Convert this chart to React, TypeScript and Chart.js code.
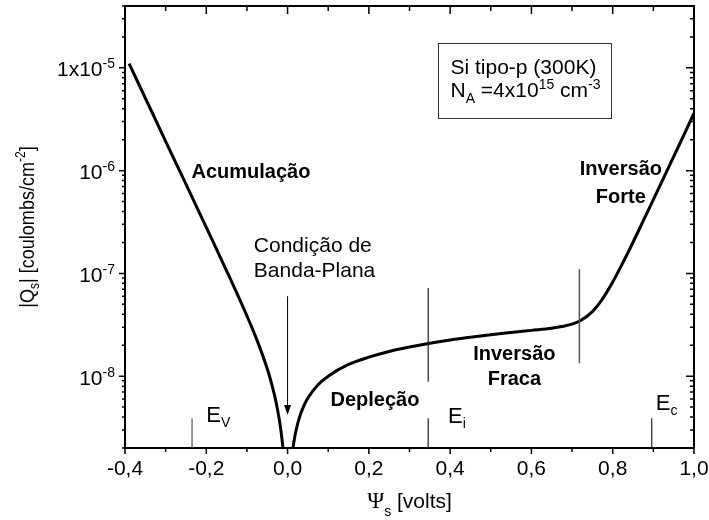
import { useEffect, useRef } from 'react';
import { Chart, registerables } from 'chart.js';

Chart.register(...registerables);

// Surface charge |Qs| against surface potential, accumulation side (psi < 0)
const psiAccumulation = [-0.39, -0.375, -0.35, -0.325, -0.3, -0.25, -0.2, -0.15, -0.1, -0.075, -0.05, -0.04, -0.03, -0.02, -0.015, -0.01, -0.005];
const qsAccumulation = [1.1e-5, 8.24e-6, 5.08e-6, 3.14e-6, 1.93e-6, 7.38e-7, 2.8e-7, 1.06e-7, 3.86e-8, 2.23e-8, 1.18e-8, 8.65e-9, 5.99e-9, 3.7e-9, 2.68e-9, 1.73e-9, 8.3e-10];

// depletion / inversion side (psi > 0)
const psiInversion = [0.005, 0.01, 0.015, 0.02, 0.03, 0.04, 0.05, 0.075, 0.1, 0.15, 0.2, 0.25, 0.3, 0.35, 0.4, 0.45, 0.5, 0.55, 0.6, 0.65, 0.675, 0.7, 0.72, 0.75, 0.775, 0.8, 0.825, 0.85, 0.875, 0.9, 0.925, 0.95, 0.975, 1.0];
const qsInversion = [7.8e-10, 1.52e-9, 2.21e-9, 2.86e-9, 4.06e-9, 5.15e-9, 6.13e-9, 8.26e-9, 1.0e-8, 1.3e-8, 1.53e-8, 1.74e-8, 1.92e-8, 2.09e-8, 2.25e-8, 2.39e-8, 2.53e-8, 2.66e-8, 2.79e-8, 2.93e-8, 3.04e-8, 3.21e-8, 3.46e-8, 4.25e-8, 5.65e-8, 8.23e-8, 1.27e-7, 2.01e-7, 3.24e-7, 5.23e-7, 8.46e-7, 1.37e-6, 2.22e-6, 3.62e-6];

const xTickValues = [-0.4, -0.2, 0, 0.2, 0.4, 0.6, 0.8, 1.0];
const xTickLabels = ['-0,4', '-0,2', '0,0', '0,2', '0,4', '0,6', '0,8', '1,0'];
const yTickExponents = [-5, -6, -7, -8];
const yTickBases = ['1x10', '10', '10', '10'];

const X_MIN = -0.4;
const X_MAX = 1.0;
const Y_MIN = 2e-9;
const Y_MAX = 4e-5;

// band-edge markers (surface potential, volts)
const psiEv = -0.235;
const psiEi = 0.346;
const psiStrong = 0.718;
const psiEc = 0.896;

const SANS = "'Liberation Sans', Arial, Helvetica, sans-serif";
const SERIF = "'Liberation Serif', 'Times New Roman', serif";

type Run = { t: string; size: number; dy?: number; bold?: boolean; family?: string };

function fontOf(r: Run) {
  return `${r.bold ? 'bold ' : ''}${r.size}px ${r.family || SANS}`;
}

function runsWidth(ctx: CanvasRenderingContext2D, runs: Run[]) {
  let w = 0;
  for (const r of runs) {
    ctx.font = fontOf(r);
    w += ctx.measureText(r.t).width;
  }
  return w;
}

// draws a row of text pieces (with sub/superscripts); sx squeezes the row horizontally
function drawRuns(ctx: CanvasRenderingContext2D, x: number, y: number, runs: Run[], align: 'left' | 'center' | 'right' = 'left', sx = 1) {
  const w = runsWidth(ctx, runs);
  let cx = align === 'left' ? 0 : align === 'center' ? -w / 2 : -w;
  ctx.save();
  ctx.translate(x, y);
  ctx.scale(sx, 1);
  ctx.textAlign = 'left';
  ctx.textBaseline = 'alphabetic';
  for (const r of runs) {
    ctx.font = fontOf(r);
    ctx.fillText(r.t, cx, r.dy || 0);
    cx += ctx.measureText(r.t).width;
  }
  ctx.restore();
}

function vline(ctx: CanvasRenderingContext2D, x: number, y1: number, y2: number) {
  ctx.beginPath();
  ctx.moveTo(x, y1);
  ctx.lineTo(x, y2);
  ctx.stroke();
}

const overlay = {
  id: 'overlay',
  afterDraw(chart: any) {
    const { ctx, chartArea: a, scales } = chart;
    const X = (v: number) => scales.x.getPixelForValue(v);
    const Y = (v: number) => scales.y.getPixelForValue(v);
    ctx.save();
    ctx.fillStyle = '#000';
    ctx.strokeStyle = '#000';

    // frame
    ctx.lineWidth = 2;
    ctx.strokeRect(a.left, a.top, a.right - a.left, a.bottom - a.top);

    // x ticks every 0.1 V: outward on the bottom, inward on the top
    ctx.lineWidth = 1.5;
    for (let i = -4; i <= 10; i++) {
      const px = X(i / 10);
      const major = i % 2 === 0;
      vline(ctx, px, a.bottom, a.bottom + (major ? 6 : 4));
      vline(ctx, px, a.top, a.top + (major ? 8 : 5));
    }

    // log y ticks: outward on the left, inward on the right
    for (let e = -9; e <= -5; e++) {
      for (let m = 1; m <= 9; m++) {
        const v = m * Math.pow(10, e);
        if (v < Y_MIN * 0.999 || v > Y_MAX * 1.001) continue;
        const py = Y(v);
        const major = m === 1;
        ctx.beginPath();
        ctx.moveTo(a.left - (major ? 6 : 3), py);
        ctx.lineTo(a.left, py);
        ctx.moveTo(a.right - (major ? 8 : 4), py);
        ctx.lineTo(a.right, py);
        ctx.stroke();
      }
    }

    // tick labels
    xTickValues.forEach((v, i) => {
      drawRuns(ctx, X(v), a.bottom + 27, [{ t: xTickLabels[i], size: 21 }], 'center');
    });
    yTickExponents.forEach((e, i) => {
      const py = Y(Math.pow(10, e));
      drawRuns(ctx, a.left - 10, py + 8.5, [
        { t: yTickBases[i], size: 21 },
        { t: String(e), size: 14, dy: -8 },
      ], 'right');
    });

    // axis titles
    drawRuns(ctx, (a.left + a.right) / 2, a.bottom + 60, [
      { t: 'Ψ', size: 23, family: SERIF },
      { t: 's', size: 14, dy: 8 },
      { t: ' [volts]', size: 21 },
    ], 'center');

    ctx.save();
    ctx.translate(34, (a.top + a.bottom) / 2);
    ctx.rotate(-Math.PI / 2);
    drawRuns(ctx, 0, 0, [
      { t: '|Q', size: 21 },
      { t: 's', size: 14, dy: 5 },
      { t: '| [coulombs/cm', size: 21 },
      { t: '-2', size: 14, dy: -9 },
      { t: ']', size: 21 },
    ], 'center', 0.86);
    ctx.restore();

    // band-edge markers
    ctx.lineWidth = 1.2;
    ctx.strokeStyle = '#222';
    vline(ctx, X(psiEi), Y(7.2e-8), Y(8.8e-9));
    vline(ctx, X(psiEi), Y(3.9e-9), a.bottom);
    vline(ctx, X(psiEc), Y(3.9e-9), a.bottom);
    ctx.strokeStyle = '#555';
    vline(ctx, X(psiEv), Y(3.9e-9), a.bottom);
    ctx.lineWidth = 1.5;
    vline(ctx, X(psiStrong), Y(1.1e-7), Y(1.34e-8));

    // flat-band arrow
    ctx.strokeStyle = '#000';
    ctx.lineWidth = 1;
    const ax = X(0);
    const ay1 = Y(6.0e-8);
    const ay2 = Y(4.2e-9);
    vline(ctx, ax, ay1, ay2 - 6);
    ctx.beginPath();
    ctx.moveTo(ax, ay2);
    ctx.lineTo(ax - 3.5, ay2 - 10);
    ctx.lineTo(ax + 3.5, ay2 - 10);
    ctx.closePath();
    ctx.fill();

    // region labels
    drawRuns(ctx, X(-0.09), Y(1e-6) + 7, [{ t: 'Acumulação', size: 20, bold: true }], 'center');
    drawRuns(ctx, X(-0.083), Y(1.89e-7) + 7.5, [{ t: 'Condição de', size: 21 }], 'left');
    drawRuns(ctx, X(-0.083), Y(1.89e-7) + 32.5, [{ t: 'Banda-Plana', size: 21 }], 'left');
    drawRuns(ctx, X(0.215), Y(6.0e-9) + 7, [{ t: 'Depleção', size: 20, bold: true }], 'center');
    drawRuns(ctx, X(0.558), Y(1.68e-8) + 7, [{ t: 'Inversão', size: 20, bold: true }], 'center');
    drawRuns(ctx, X(0.558), Y(1.68e-8) + 32, [{ t: 'Fraca', size: 20, bold: true }], 'center');
    drawRuns(ctx, X(0.82), Y(1.06e-6) + 7, [{ t: 'Inversão', size: 20, bold: true }], 'center');
    drawRuns(ctx, X(0.82), Y(1.06e-6) + 35, [{ t: 'Forte', size: 20, bold: true }], 'center');

    drawRuns(ctx, X(-0.2), Y(3.58e-9), [{ t: 'E', size: 22 }, { t: 'V', size: 14, dy: 5 }], 'left');
    drawRuns(ctx, X(0.395), Y(3.5e-9), [{ t: 'E', size: 22 }, { t: 'i', size: 14, dy: 5 }], 'left');
    drawRuns(ctx, X(0.906), Y(4.7e-9), [{ t: 'E', size: 22 }, { t: 'c', size: 14, dy: 5 }], 'left');

    // sample info box
    ctx.strokeStyle = '#333';
    ctx.lineWidth = 1;
    const bx1 = Math.round(X(0.371)) + 0.5;
    const bx2 = Math.round(X(0.795)) + 0.5;
    const by1 = Math.round(Y(1.75e-5)) + 0.5;
    const by2 = Math.round(Y(3.25e-6)) + 0.5;
    ctx.strokeRect(bx1, by1, bx2 - bx1, by2 - by1);
    drawRuns(ctx, bx1 + 12, by1 + 30, [{ t: 'Si tipo-p (300K)', size: 21 }], 'left');
    drawRuns(ctx, bx1 + 12, by1 + 53, [
      { t: 'N', size: 21 },
      { t: 'A', size: 14, dy: 6 },
      { t: ' =4x10', size: 21 },
      { t: '15', size: 14, dy: -8 },
      { t: ' cm', size: 21 },
      { t: '-3', size: 14, dy: -8 },
    ], 'left');

    ctx.restore();
  },
};

export default function App() {
  const canvasRef = useRef<HTMLCanvasElement | null>(null);

  useEffect(() => {
    document.body.style.margin = '0';
    const canvas = canvasRef.current;
    if (!canvas) return;
    const chart = new Chart(canvas, {
      type: 'line',
      data: {
        datasets: [
          {
            data: psiAccumulation.map((p, i) => ({ x: p, y: qsAccumulation[i] })),
            borderColor: '#000',
            borderWidth: 3,
            pointRadius: 0,
            cubicInterpolationMode: 'monotone',
            fill: false,
          },
          {
            data: psiInversion.map((p, i) => ({ x: p, y: qsInversion[i] })),
            borderColor: '#000',
            borderWidth: 3,
            pointRadius: 0,
            cubicInterpolationMode: 'monotone',
            fill: false,
          },
        ],
      },
      options: {
        animation: false,
        responsive: false,
        devicePixelRatio: 1,
        layout: { padding: { left: 125, right: 15, top: 6, bottom: 72 } },
        plugins: { legend: { display: false }, tooltip: { enabled: false } },
        scales: {
          x: { type: 'linear', min: X_MIN, max: X_MAX, display: false },
          y: { type: 'logarithmic', min: Y_MIN, max: Y_MAX, display: false },
        },
      },
      plugins: [overlay],
    });
    return () => chart.destroy();
  }, []);

  return (
    <div style={{ width: 709, height: 520, background: '#fff' }}>
      <canvas ref={canvasRef} width={709} height={520} />
    </div>
  );
}
